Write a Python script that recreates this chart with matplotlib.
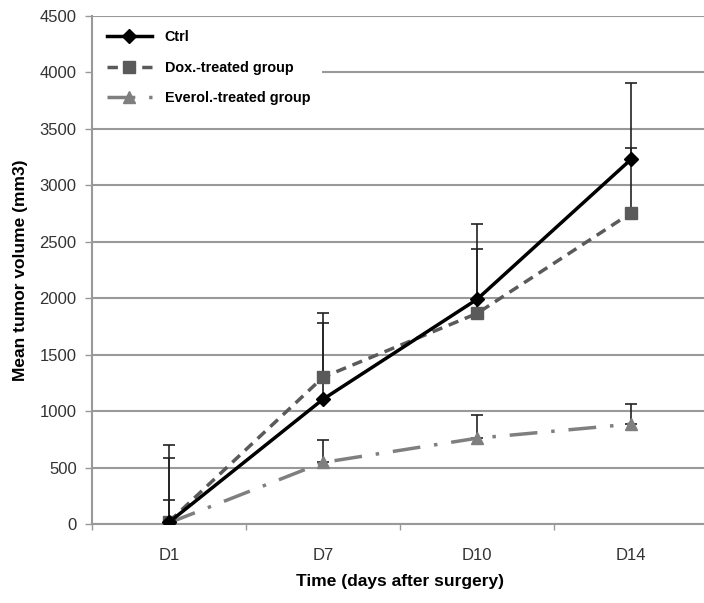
import matplotlib
matplotlib.use("Agg")
import matplotlib.pyplot as plt
from matplotlib.patches import Rectangle

days = ["D1", "D7", "D10", "D14"]
ctrl = [15, 1105, 1990, 3230]
ctrl_err = [685, 765, 665, 675]
dox = [20, 1300, 1865, 2755]
dox_err = [567, 483, 568, 580]
everol = [10, 545, 760, 885]
everol_err = [202, 200, 205, 180]
yticks = [0, 500, 1000, 1500, 2000, 2500, 3000, 3500, 4000, 4500]

plt.rcParams['font.family'] = ['Liberation Sans', 'DejaVu Sans']

fig = plt.figure(figsize=(7.04, 6.03), dpi=100)
W, H = 704, 603
ax = fig.add_axes([92 / W, 1 - 524 / H, 616 / W, 508 / H])

x = list(range(len(days)))
ax.set_xlim(-0.5, len(days) - 0.5)
ax.set_ylim(0, 4500)
ax.set_yticks(yticks)
ax.set_yticklabels([str(v) for v in yticks], fontsize=12, color="#333333")
ax.set_xticks(x)
ax.set_xticklabels(days, fontsize=12, color="#333333")
ax.set_xticks([i + 0.5 for i in x[:-1]] + [-0.5], minor=True)
ax.tick_params(axis="x", which="major", length=0, pad=17)
ax.tick_params(axis="x", which="minor", length=4, color="#999999", width=1)
ax.tick_params(axis="y", length=5, color="#999999", width=1, pad=6)

ax.grid(axis="y", color="#999999", linewidth=1.5, zorder=0)
ax.set_axisbelow(True)
for s in ["top", "right"]:
    ax.spines[s].set_visible(False)
for s in ["left", "bottom"]:
    ax.spines[s].set_color("#999999")
    ax.spines[s].set_linewidth(1.5)

# white legend background over the grid
ax.add_patch(Rectangle((0.002, (524 - 120) / 508), (322 - 93) / 616, 100 / 508,
                       transform=ax.transAxes, facecolor="white",
                       edgecolor="none", zorder=1.5))

zeros = [0, 0, 0, 0]
ax.errorbar(x, everol, yerr=[zeros, everol_err], fmt="none", ecolor="#222222",
            elinewidth=1.2, capsize=4, capthick=1.2, zorder=2)
ax.errorbar(x, dox, yerr=[zeros, dox_err], fmt="none", ecolor="#222222",
            elinewidth=1.2, capsize=4, capthick=1.2, zorder=2)
ax.errorbar(x, ctrl, yerr=[zeros, ctrl_err], fmt="none", ecolor="#222222",
            elinewidth=1.2, capsize=4, capthick=1.2, zorder=2)

ax.plot(x, everol, color="#7f7f7f", linewidth=2.5, linestyle=(0, (8, 4, 1, 4)),
        marker="^", markersize=9, label="Everol.-treated group", zorder=3)
ax.plot(x, dox, color="#5a5a5a", linewidth=2.5, linestyle=(0, (3, 2)),
        marker="s", markersize=9, label="Dox.-treated group", zorder=4)
ax.plot(x, ctrl, color="black", linewidth=2.5, linestyle="-",
        marker="D", markersize=7, label="Ctrl", zorder=5)

handles, labels = ax.get_legend_handles_labels()
order = [2, 1, 0]
leg = ax.legend([handles[i] for i in order], [labels[i] for i in order],
                loc="upper left", bbox_to_anchor=(15 / 616, (524 - 30) / 508),
                frameon=False, borderpad=0, borderaxespad=0,
                prop={"weight": "bold", "size": 10.4}, handlelength=3.1,
                labelspacing=1.15, handletextpad=0.9)

ax.set_ylabel("Mean tumor volume (mm3)", fontsize=12.5, fontweight="bold", labelpad=8)
ax.set_xlabel("Time (days after surgery)", fontsize=12.5, fontweight="bold", labelpad=8)

fig.savefig("out.png", dpi=100)
